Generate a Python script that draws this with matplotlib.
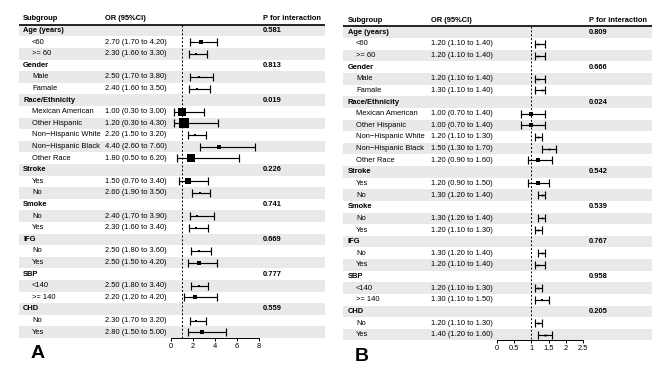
import numpy as np
import matplotlib
matplotlib.use("Agg")
import matplotlib.pyplot as plt

plt.rcParams['font.family'] = ['Liberation Sans', 'DejaVu Sans']

# ---- data -------------------------------------------------------------
groups = ['Age (years)', 'Gender', 'Race/Ethnicity', 'Stroke', 'Smoke',
          'IFG', 'SBP', 'CHD']
subgroups = [['<60', '>= 60'],
             ['Male', 'Famale'],
             ['Mexican American', 'Other Hispanic', 'Non\u2212Hispanic White',
              'Non\u2212Hispanic Black', 'Other Race'],
             ['Yes', 'No'],
             ['No', 'Yes'],
             ['No', 'Yes'],
             ['<140', '>= 140'],
             ['No', 'Yes']]

or_a = [2.70, 2.30, 2.50, 2.40, 1.00, 1.20, 2.20, 4.40, 1.80, 1.50, 2.60,
        2.40, 2.30, 2.50, 2.50, 2.50, 2.20, 2.30, 2.80]
lo_a = [1.70, 1.60, 1.70, 1.60, 0.30, 0.30, 1.50, 2.60, 0.50, 0.70, 1.90,
        1.70, 1.60, 1.80, 1.50, 1.80, 1.20, 1.70, 1.50]
hi_a = [4.20, 3.30, 3.80, 3.50, 3.00, 4.30, 3.20, 7.60, 6.20, 3.40, 3.50,
        3.90, 3.40, 3.60, 4.20, 3.40, 4.20, 3.20, 5.00]
p_a = ['0.581', '0.813', '0.019', '0.226', '0.741', '0.669', '0.777', '0.559']
ticks_a = [0, 2, 4, 6, 8]

or_b = [1.20, 1.20, 1.20, 1.30, 1.00, 1.00, 1.20, 1.50, 1.20, 1.20, 1.30,
        1.30, 1.20, 1.30, 1.20, 1.20, 1.30, 1.20, 1.40]
lo_b = [1.10, 1.10, 1.10, 1.10, 0.70, 0.70, 1.10, 1.30, 0.90, 0.90, 1.20,
        1.20, 1.10, 1.20, 1.10, 1.10, 1.10, 1.10, 1.20]
hi_b = [1.40, 1.40, 1.40, 1.40, 1.40, 1.40, 1.30, 1.70, 1.60, 1.50, 1.40,
        1.40, 1.30, 1.40, 1.40, 1.30, 1.50, 1.30, 1.60]
p_b = ['0.809', '0.666', '0.024', '0.542', '0.539', '0.767', '0.958', '0.205']
ticks_b = [0, 0.5, 1, 1.5, 2, 2.5]
ticklabels_b = ['0', '0.5', '1', '1.5', '2', '2.5']

# ---- layout -------------------------------------------------------------
W, H = 669, 369
FS = 5.4
BAND = '#e9e9e9'

fig = plt.figure(figsize=(W / 100, H / 100), dpi=100)


def px_axes(x0, x1, ytop, ybot):
    """axes from pixel box (origin top-left)"""
    return fig.add_axes([x0 / W, 1 - ybot / H, (x1 - x0) / W, (ybot - ytop) / H])


def panel(tab, forest, ors, los, his, pvals, ticks, ticklabels, box_k, letter):
    # tab = (left, right, row0_y, spacing, x_sub, x_ind, x_or, x_p)
    left, right, y0, dy, x_sub, x_ind, x_or, x_p = tab
    nrows = len(groups) + sum(len(s) for s in subgroups)
    ytop = y0 - 1.5 * dy
    ybot = y0 + (nrows - 0.5) * dy

    ax = px_axes(left, right, ytop, ybot)
    ax.set_xlim(0, right - left)
    ax.set_ylim(nrows - 0.5, -1.5)
    ax.axis('off')

    for i in range(0, nrows, 2):
        ax.axhspan(i - 0.5, i + 0.5, color=BAND, lw=0, zorder=0)
    ax.plot([0, right - left], [-0.5, -0.5], color='black', lw=1.2,
            solid_capstyle='butt', clip_on=False)

    hy = -1.0
    ax.text(x_sub - left, hy, 'Subgroup', fontsize=FS, fontweight='bold', va='center')
    ax.text(x_or - left, hy, 'OR (95%CI)', fontsize=FS, fontweight='bold', va='center')
    ax.text(x_p - left, hy, 'P for interaction', fontsize=FS, fontweight='bold', va='center')

    ys = []
    r = 0
    k = 0
    for g, subs, p in zip(groups, subgroups, pvals):
        ax.text(x_sub - left, r, g, fontsize=FS, fontweight='bold', va='center')
        ax.text(x_p - left, r, p, fontsize=FS, fontweight='bold', va='center')
        r += 1
        for s in subs:
            ax.text(x_ind - left, r, s, fontsize=FS, va='center')
            ax.text(x_or - left, r,
                    '%.2f (%.2f to %.2f)' % (ors[k], los[k], his[k]),
                    fontsize=FS, va='center')
            ys.append(r)
            r += 1
            k += 1

    # forest part
    f0, f1 = forest
    fx = px_axes(f0, f1, ytop, ybot)
    fx.patch.set_alpha(0)
    fx.set_xlim(ticks[0], ticks[-1])
    fx.set_ylim(nrows - 0.5, -1.5)
    for s in ['top', 'left', 'right']:
        fx.spines[s].set_visible(False)
    fx.spines['bottom'].set_linewidth(0.7)
    fx.set_yticks([])
    fx.set_xticks(ticks)
    fx.set_xticklabels(ticklabels)
    fx.tick_params(axis='x', length=2.5, width=0.7, pad=1, labelsize=FS)

    fx.plot([1, 1], [-0.5, nrows - 0.5], color='black', lw=0.7,
            ls=(0, (2, 2)), clip_on=False)

    ors = np.array(ors)
    los = np.array(los)
    his = np.array(his)
    fx.errorbar(ors, ys, xerr=[ors - los, his - ors], fmt='none',
                ecolor='black', elinewidth=0.85, capsize=2.8, capthick=0.85)
    sizes = box_k * np.log(his / los)
    for x, y, s in zip(ors, ys, sizes):
        fx.plot(x, y, marker='s', ms=max(s, 1.3), color='black', mec='black',
                mew=0)

    fig.text((left + 12) / W, 1 - (ybot + 16) / H, letter, fontsize=14,
             fontweight='bold', ha='left', va='center')


panel((19, 325, 30.5, 11.6, 23, 32, 105, 263), (171, 259),
      or_a, lo_a, hi_a, p_a, ticks_a, [str(t) for t in ticks_a], 2.5, 'A')
panel((343, 652, 32.3, 11.63, 348, 356, 431, 589), (496.7, 583.3),
      or_b, lo_b, hi_b, p_b, ticks_b, ticklabels_b, 5.0, 'B')

fig.savefig('out.png', dpi=100)
